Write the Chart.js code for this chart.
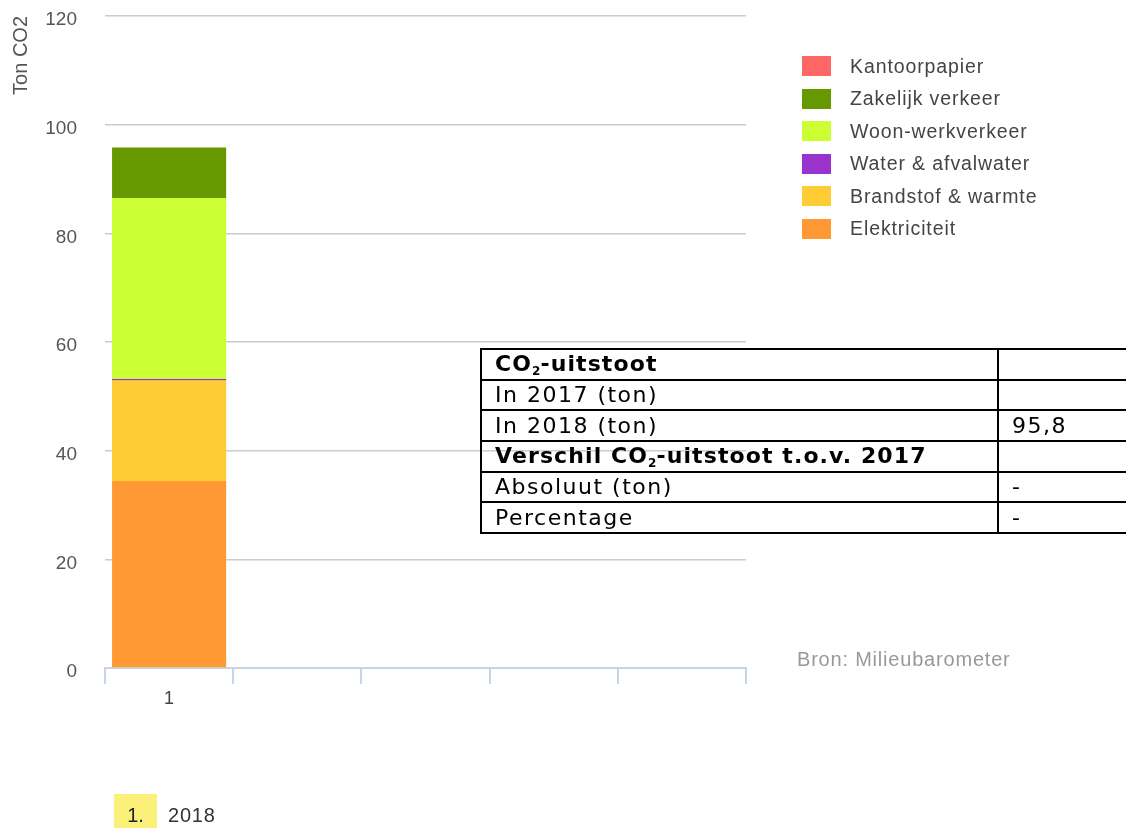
<!DOCTYPE html>
<html><head><meta charset="utf-8">
<script src="https://cdn.jsdelivr.net/npm/chart.js@4/dist/chart.umd.min.js"></script>
<style>
html,body{margin:0;padding:0;background:#fff;}
#wrap{position:relative;width:1126px;height:828px;overflow:hidden;font-family:"Liberation Sans",Arial,sans-serif;}
#c{position:absolute;left:0;top:0;}
#legend{position:absolute;left:802px;top:50px;}
.li{display:flex;align-items:center;height:32.5px;font-size:19.5px;letter-spacing:0.9px;color:#444;}
.sw{width:29px;height:20px;margin-right:19px;}
#bron{position:absolute;left:797px;top:648px;font-size:20px;letter-spacing:0.8px;color:#999;}
#tbl{position:absolute;left:480px;top:348px;width:720px;border-collapse:collapse;table-layout:fixed;font-family:"DejaVu Sans",Verdana,sans-serif;font-size:22px;color:#000;}
#tbl td{border:2px solid #000;padding:0 0 0 13px;height:28.7px;line-height:28px;white-space:nowrap;overflow:hidden;letter-spacing:1.5px;}
#tbl td.b{font-weight:bold;letter-spacing:1.1px;}
#tbl sub{font-size:12px;line-height:0;vertical-align:baseline;position:relative;top:4px;letter-spacing:0;}
#foot{position:absolute;left:114px;top:794px;font-size:20px;color:#333;}
#foot .n{display:inline-block;background:#fbf07a;width:43px;height:34px;line-height:42px;text-align:center;color:#222;}
#foot .t{margin-left:11px;letter-spacing:0.8px;}
</style></head>
<body><div id="wrap">
<canvas id="c" width="1126" height="828"></canvas>
<div id="legend"></div>
<table id="tbl"><colgroup><col style="width:517px"><col style="width:203px"></colgroup><tbody id="tb"></tbody></table>
<div id="bron">Bron: Milieubarometer</div>
<div id="foot"><span class="n">1.</span><span class="t">2018</span></div>
</div>
<script>
const categories = ["1", "", "", "", ""];
const seriesNames = ["Elektriciteit", "Brandstof & warmte", "Water & afvalwater", "Woon-werkverkeer", "Zakelijk verkeer", "Kantoorpapier"];
const seriesColors = ["#ff9933", "#ffcc33", "#9933cc", "#ccff33", "#669900", "#ff6666"];
const elektriciteit = [34.4, null, null, null, null];
const brandstof = [18.5, null, null, null, null];
const water = [0.3, null, null, null, null];
const woonwerk = [33.3, null, null, null, null];
const zakelijk = [9.3, null, null, null, null];
const kantoorpapier = [0, null, null, null, null];
const yTicks = [0, 20, 40, 60, 80, 100, 120];
const tableRows = [
  ["CO<sub>2</sub>-uitstoot", "", true],
  ["In 2017 (ton)", "", false],
  ["In 2018 (ton)", "95,8", false],
  ["Verschil CO<sub>2</sub>-uitstoot t.o.v. 2017", "", true],
  ["Absoluut (ton)", "-", false],
  ["Percentage", "-", false]
];

const values = [elektriciteit, brandstof, water, woonwerk, zakelijk, kantoorpapier];
const datasets = seriesNames.map((n, i) => ({
  label: n, data: values[i], backgroundColor: seriesColors[i],
  borderWidth: 0, barPercentage: 0.89, categoryPercentage: 1
}));

const lg = document.getElementById('legend');
for (let i = seriesNames.length - 1; i >= 0; i--) {
  const d = document.createElement('div'); d.className = 'li';
  d.innerHTML = '<span class="sw" style="background:' + seriesColors[i] + '"></span>' + seriesNames[i];
  lg.appendChild(d);
}
const tb = document.getElementById('tb');
tableRows.forEach(r => {
  const tr = document.createElement('tr');
  tr.innerHTML = '<td class="' + (r[2] ? 'b' : '') + '">' + r[0] + '</td><td>' + r[1] + '</td>';
  tb.appendChild(tr);
});

new Chart(document.getElementById('c'), {
  type: 'bar',
  data: { labels: categories, datasets },
  options: {
    responsive: false, animation: false,
    layout: { padding: { top: 16, right: 380, bottom: 110, left: 0 } },
    plugins: { legend: { display: false }, tooltip: { enabled: false } },
    scales: {
      x: {
        stacked: true,
        grid: { drawOnChartArea: false, drawTicks: true, tickLength: 16, color: '#c5d5e5', lineWidth: 2 },
        border: { color: '#c5d5e5', width: 2 },
        ticks: { color: '#444', font: { size: 18, family: 'Liberation Sans' }, padding: 4 },
        afterFit: s => { s.height = 50; }
      },
      y: {
        stacked: true, min: 0, max: 120,
        afterBuildTicks: s => { s.ticks = yTicks.map(v => ({ value: v })); },
        grid: { color: '#cccccc', drawTicks: true, tickLength: 26, tickColor: 'rgba(0,0,0,0)', lineWidth: 1.5 },
        border: { display: false },
        ticks: { color: '#555', font: { size: 19, family: 'Liberation Sans' }, padding: 2, labelOffset: 4 },
        title: { display: true, text: 'Ton CO2', align: 'end', color: '#555', font: { size: 20, family: 'Liberation Sans' }, padding: { top: 9, bottom: 0 } },
        afterFit: s => { s.width = 105; }
      }
    }
  }
});
</script>
</body></html>
